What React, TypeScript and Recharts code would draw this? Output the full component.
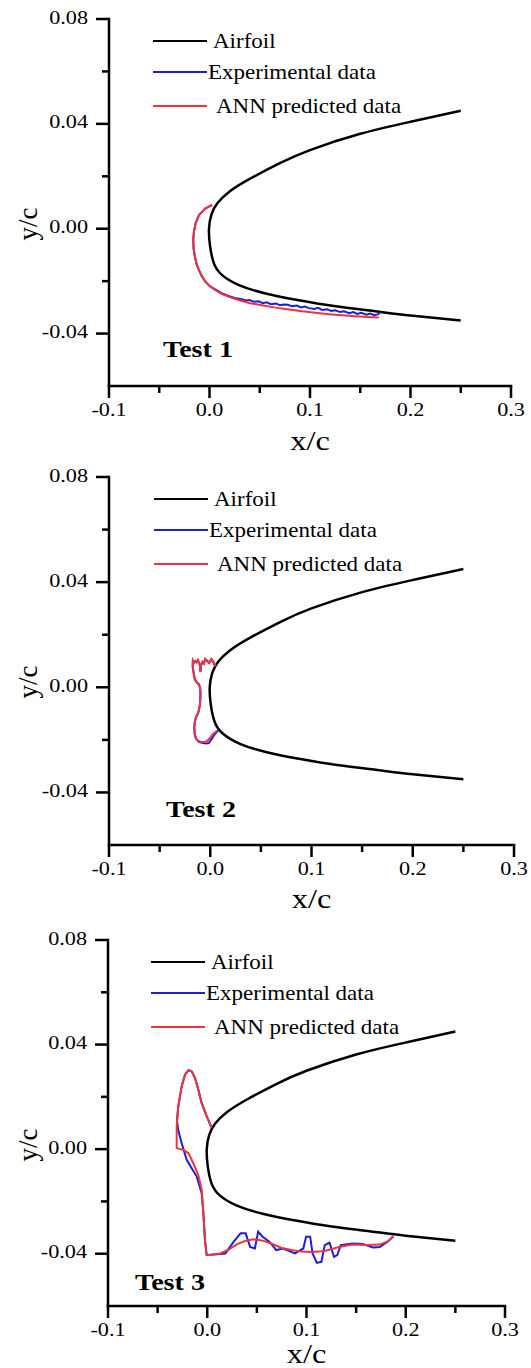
import React from 'react';
import { LineChart, Line, XAxis, YAxis } from 'recharts';

const SERIF = 'Liberation Serif, Times New Roman, serif';
const AIRFOIL_COLOR = '#000000';
const EXP_COLOR = '#1f1fd2';
const ANN_COLOR = '#ec3440';

// axes
const X_TICKS = [-0.1, -0.05, 0, 0.05, 0.1, 0.15, 0.2, 0.25, 0.3];
const X_LABELED = [-0.1, 0, 0.1, 0.2, 0.3];
const Y_TICKS = [-0.04, -0.02, 0, 0.02, 0.04, 0.06, 0.08];
const Y_LABELED = [-0.04, 0, 0.04, 0.08];
const LEGEND_NAMES = ['Airfoil', 'Experimental data', 'ANN predicted data'];

// airfoil contour, upper trailing edge -> leading edge -> lower trailing edge
const airfoilX = [0.25, 0.2, 0.15, 0.1, 0.07, 0.04, 0.02, 0.008, 0.002, -0.0005, 0.0005, 0.0044, 0.0126, 0.0293, 0.0558, 0.089, 0.1255, 0.165, 0.2, 0.25];
const airfoilY = [0.045, 0.0408, 0.0362, 0.03, 0.025, 0.019, 0.0142, 0.0098, 0.0055, 0.0, -0.0065, -0.0132, -0.0177, -0.0215, -0.0247, -0.0273, -0.0296, -0.0315, -0.0331, -0.035];

// Test 1
const t1AnnX = [0.0027, -0.0039, -0.0105, -0.0138, -0.0155, -0.0162, -0.0158, -0.0145, -0.0128, -0.0105, -0.0075, -0.0039, 0.0006, 0.006, 0.0125, 0.0193, 0.029, 0.0392, 0.052, 0.0658, 0.079, 0.0922, 0.1055, 0.1188, 0.132, 0.1453, 0.157, 0.1686];
const t1AnnY = [0.0091, 0.0078, 0.0052, 0.0021, -0.0012, -0.0043, -0.0076, -0.0107, -0.0135, -0.0158, -0.0182, -0.0203, -0.022, -0.0234, -0.0249, -0.026, -0.0272, -0.0283, -0.0292, -0.0301, -0.0308, -0.0315, -0.0321, -0.0326, -0.033, -0.0334, -0.0337, -0.0339];
const t1ExpX = [0.0027, -0.0039, -0.0105, -0.0138, -0.0155, -0.0162, -0.0158, -0.0145, -0.0128, -0.0105, -0.0075, -0.0039, 0.0006, 0.006, 0.012, 0.019, 0.025, 0.031, 0.036, 0.04, 0.044, 0.049, 0.053, 0.057, 0.061, 0.066, 0.07, 0.074, 0.078, 0.082, 0.087, 0.091, 0.095, 0.099, 0.104, 0.108, 0.112, 0.117, 0.121, 0.125, 0.13, 0.134, 0.139, 0.143, 0.147, 0.151, 0.156, 0.16, 0.164, 0.168, 0.17];
const t1ExpY = [0.0091, 0.0078, 0.0052, 0.0021, -0.0012, -0.0043, -0.0076, -0.0107, -0.0135, -0.0158, -0.0182, -0.0203, -0.022, -0.0232, -0.0246, -0.0256, -0.0264, -0.0268, -0.0274, -0.0272, -0.0279, -0.0277, -0.0284, -0.0281, -0.0288, -0.0285, -0.0292, -0.0289, -0.029, -0.0296, -0.0293, -0.03, -0.0297, -0.0303, -0.0306, -0.0302, -0.031, -0.0307, -0.0314, -0.0311, -0.0318, -0.0315, -0.0322, -0.0318, -0.0325, -0.0321, -0.0328, -0.0324, -0.033, -0.0326, -0.0318];

// Test 2
const t2AnnX = [0.005, 0.0034, 0.001, -0.001, -0.0032, -0.0049, -0.0062, -0.0075, -0.009, -0.0098, -0.0102, -0.0122, -0.0135, -0.0147, -0.016, -0.0172, -0.0174, -0.017, -0.0162, -0.0154, -0.0132, -0.0112, -0.01, -0.0097, -0.0098, -0.01, -0.0108, -0.0118, -0.0138, -0.0152, -0.0158, -0.0155, -0.0145, -0.012, -0.0085, -0.005, -0.0025, 0.0, 0.002, 0.0045, 0.007];
const t2AnnY = [0.008, 0.0096, 0.0108, 0.0092, 0.01, 0.0108, 0.009, 0.0097, 0.0085, 0.0058, 0.0086, 0.0104, 0.0094, 0.01, 0.0094, 0.0102, 0.0082, 0.0066, 0.0048, 0.0032, 0.0018, 0.0012, -0.0004, -0.0022, -0.0042, -0.006, -0.008, -0.0096, -0.0112, -0.013, -0.0152, -0.0175, -0.0192, -0.0204, -0.0208, -0.0208, -0.0202, -0.0192, -0.018, -0.0172, -0.0165];
const t2ExpX = [0.005, 0.0032, 0.0012, -0.0012, -0.003, -0.005, -0.0064, -0.0078, -0.009, -0.0097, -0.0104, -0.0122, -0.0136, -0.0148, -0.0161, -0.0171, -0.0173, -0.0168, -0.016, -0.0152, -0.013, -0.011, -0.0099, -0.0096, -0.0098, -0.0101, -0.011, -0.012, -0.014, -0.0153, -0.0157, -0.0153, -0.014, -0.0112, -0.0075, -0.004, -0.0015, 0.0012, 0.0035, 0.006, 0.0085];
const t2ExpY = [0.0079, 0.0094, 0.0106, 0.0093, 0.0101, 0.0106, 0.0091, 0.0095, 0.0084, 0.006, 0.0087, 0.0103, 0.0095, 0.0099, 0.0093, 0.01, 0.008, 0.0065, 0.0047, 0.003, 0.0017, 0.001, -0.0006, -0.0024, -0.0044, -0.0062, -0.0082, -0.0098, -0.0114, -0.0133, -0.0155, -0.0178, -0.0196, -0.0208, -0.0212, -0.0214, -0.0212, -0.0198, -0.0184, -0.0172, -0.0162];

// Test 3
const t3AnnX = [0.0045, -0.0005, -0.0056, -0.009, -0.0123, -0.0157, -0.019, -0.0224, -0.0258, -0.0292, -0.0308, -0.0308, -0.0241, -0.019, -0.014, -0.009, -0.0056, -0.0039, -0.0023, -0.0006, 0.005, 0.013, 0.021, 0.0302, 0.039, 0.0472, 0.056, 0.0644, 0.075, 0.0849, 0.095, 0.1054, 0.112, 0.119, 0.126, 0.1327, 0.1465, 0.153, 0.1601, 0.167, 0.1738, 0.1824, 0.1875];
const t3AnnY = [0.0081, 0.0125, 0.0176, 0.0227, 0.0272, 0.0298, 0.0302, 0.0285, 0.024, 0.0163, 0.0087, 0.0004, -0.0003, -0.0015, -0.0054, -0.0099, -0.0156, -0.0245, -0.0348, -0.0405, -0.0404, -0.0399, -0.0385, -0.0363, -0.035, -0.0345, -0.035, -0.0361, -0.0378, -0.0386, -0.0392, -0.0393, -0.0392, -0.0389, -0.0382, -0.0374, -0.0365, -0.0366, -0.0367, -0.0366, -0.0365, -0.0352, -0.0333];
const t3ExpX = [0.0045, -0.0005, -0.0056, -0.009, -0.0123, -0.0157, -0.019, -0.0224, -0.0258, -0.0292, -0.0305, -0.0292, -0.0258, -0.0207, -0.0157, -0.0106, -0.0056, -0.0039, -0.0023, -0.0006, 0.0096, 0.0182, 0.0267, 0.0336, 0.0387, 0.0432, 0.048, 0.0513, 0.0558, 0.0626, 0.0695, 0.0764, 0.0883, 0.0968, 0.0996, 0.1037, 0.1061, 0.1105, 0.115, 0.1184, 0.1232, 0.1277, 0.131, 0.1345, 0.1465, 0.1567, 0.167, 0.1738, 0.1824, 0.1875];
const t3ExpY = [0.0081, 0.0125, 0.0176, 0.0227, 0.0272, 0.0298, 0.0302, 0.0285, 0.024, 0.0163, 0.011, 0.0072, 0.0023, -0.0041, -0.0073, -0.0105, -0.0169, -0.0245, -0.0348, -0.0405, -0.0402, -0.0399, -0.0354, -0.0322, -0.0322, -0.0374, -0.038, -0.0316, -0.0335, -0.0354, -0.0386, -0.038, -0.0399, -0.038, -0.0335, -0.0335, -0.0399, -0.0435, -0.0431, -0.0367, -0.0358, -0.0412, -0.0405, -0.0367, -0.0361, -0.0363, -0.0376, -0.0374, -0.0352, -0.0333];

const pts = (xs: number[], ys: number[]) => xs.map((x, i) => ({ x, y: ys[i] }));
const airfoil = pts(airfoilX, airfoilY);

const AXIS_STYLE = { stroke: '#000', strokeWidth: 2.5, strokeLinecap: 'square' as const };
const X_AXIS_H = 60;

const isIn = (list: number[], v: number) => list.some(t => Math.abs(t - v) < 1e-9);

function XTick({ x, y, payload }: any) {
  const v = payload.value;
  const major = isIn(X_LABELED, v);
  return (
    <g>
      <line x1={x} x2={x} y1={y} y2={y + (major ? 12 : 7)} stroke="#000" strokeWidth={2.5} />
      {major && (
        <text transform={`translate(${x},${y + 30}) scale(1.17,1)`} textAnchor="middle" style={{ fontFamily: SERIF, fontSize: 19 }} fill="#000">
          {v.toFixed(1)}
        </text>
      )}
    </g>
  );
}

function YTick({ x, y, payload }: any) {
  const v = payload.value;
  const major = isIn(Y_LABELED, v);
  return (
    <g>
      <line x1={x - (major ? 13 : 7)} x2={x} y1={y} y2={y} stroke="#000" strokeWidth={2.5} />
      {major && (
        <text transform={`translate(${x - 21},${y + 4.5}) scale(1.17,1)`} textAnchor="end" style={{ fontFamily: SERIF, fontSize: 19 }} fill="#000">
          {v.toFixed(2)}
        </text>
      )}
    </g>
  );
}

const xLabel = (dy: number) => ({ viewBox }: any) => (
  <text transform={`translate(${viewBox.x + viewBox.width / 2},${viewBox.y + dy}) scale(1.2,1)`} textAnchor="middle" style={{ fontFamily: SERIF, fontSize: 27 }} fill="#000">
    x/c
  </text>
);

const YLabel = ({ viewBox }: any) => (
  <text transform={`translate(37,${viewBox.y + 205}) rotate(-90)`} textAnchor="middle" style={{ fontFamily: SERIF, fontSize: 27 }} fill="#000">
    y/c
  </text>
);

const LEGEND_DY = [22, 53, 87];
const LEGEND_TEXT_X = [213, 208, 216];
const LEGEND_COLORS = [AIRFOIL_COLOR, EXP_COLOR, ANN_COLOR];

function Panel({ n, top, height, plot, exp, ann, testX, testY, shift, labelDy }: any) {
  const margin = { top: plot.top, right: 531 - plot.right, bottom: height - plot.bottom - X_AXIS_H, left: 0 };
  return (
    <div style={{ position: 'absolute', left: 0, top, width: 531, height }}>
      <LineChart width={531} height={height} margin={margin}>
        <XAxis
          type="number"
          dataKey="x"
          domain={[-0.1, 0.3]}
          ticks={X_TICKS}
          interval={0}
          tick={<XTick />}
          tickLine={false}
          tickSize={0}
          tickMargin={0}
          axisLine={AXIS_STYLE}
          height={X_AXIS_H}
          label={xLabel(labelDy)}
          allowDataOverflow
        />
        <YAxis
          type="number"
          domain={[-0.06, 0.08]}
          ticks={Y_TICKS}
          interval={0}
          tick={<YTick />}
          tickLine={false}
          tickSize={0}
          tickMargin={0}
          axisLine={AXIS_STYLE}
          width={plot.left}
          label={YLabel}
          allowDataOverflow
        />
        <Line name="Airfoil" data={airfoil} dataKey="y" type="natural" stroke={AIRFOIL_COLOR} strokeWidth={2.5} dot={false} activeDot={false} isAnimationActive={false} />
        <Line name="Experimental data" data={exp} dataKey="y" type="linear" stroke={EXP_COLOR} strokeWidth={2} dot={false} activeDot={false} isAnimationActive={false} />
        <Line name="ANN predicted data" data={ann} dataKey="y" type="linear" stroke={ANN_COLOR} strokeWidth={2} dot={false} activeDot={false} isAnimationActive={false} />
      </LineChart>
      <svg width={531} height={height} style={{ position: 'absolute', left: 0, top: 0, pointerEvents: 'none' }}>
        {LEGEND_NAMES.map((name, i) => {
          const ly = plot.top + LEGEND_DY[i];
          return (
            <g key={name}>
              <line x1={153 + shift} x2={207 + shift} y1={ly} y2={ly} stroke={LEGEND_COLORS[i]} strokeWidth={2.2} />
              <text transform={`translate(${LEGEND_TEXT_X[i] + shift},${ly + 7}) scale(1.15,1)`} style={{ fontFamily: SERIF, fontSize: 20 }} fill="#000">
                {name}
              </text>
            </g>
          );
        })}
        <text transform={`translate(${testX},${testY}) scale(1.17,1)`} style={{ fontFamily: SERIF, fontSize: 24, fontWeight: 'bold' }} fill="#000">
          {`Test ${n}`}
        </text>
      </svg>
    </div>
  );
}

export default function App() {
  return (
    <div style={{ position: 'absolute', left: 0, top: 0, width: 531, height: 1368, background: '#fff' }}>
      <Panel n={1} top={0} height={460} plot={{ top: 19, bottom: 386, left: 109, right: 511 }} labelDy={64}
        exp={pts(t1ExpX, t1ExpY)} ann={pts(t1AnnX, t1AnnY)} testX={163} testY={357} shift={0} />
      <Panel n={2} top={460} height={460} plot={{ top: 17, bottom: 385, left: 109, right: 514 }} labelDy={63}
        exp={pts(t2ExpX, t2ExpY)} ann={pts(t2AnnX, t2AnnY)} testX={166} testY={357} shift={1} />
      <Panel n={3} top={910} height={458} plot={{ top: 30, bottom: 396, left: 108, right: 505 }} labelDy={57}
        exp={pts(t3ExpX, t3ExpY)} ann={pts(t3AnnX, t3AnnY)} testX={135} testY={380} shift={-2} />
    </div>
  );
}
